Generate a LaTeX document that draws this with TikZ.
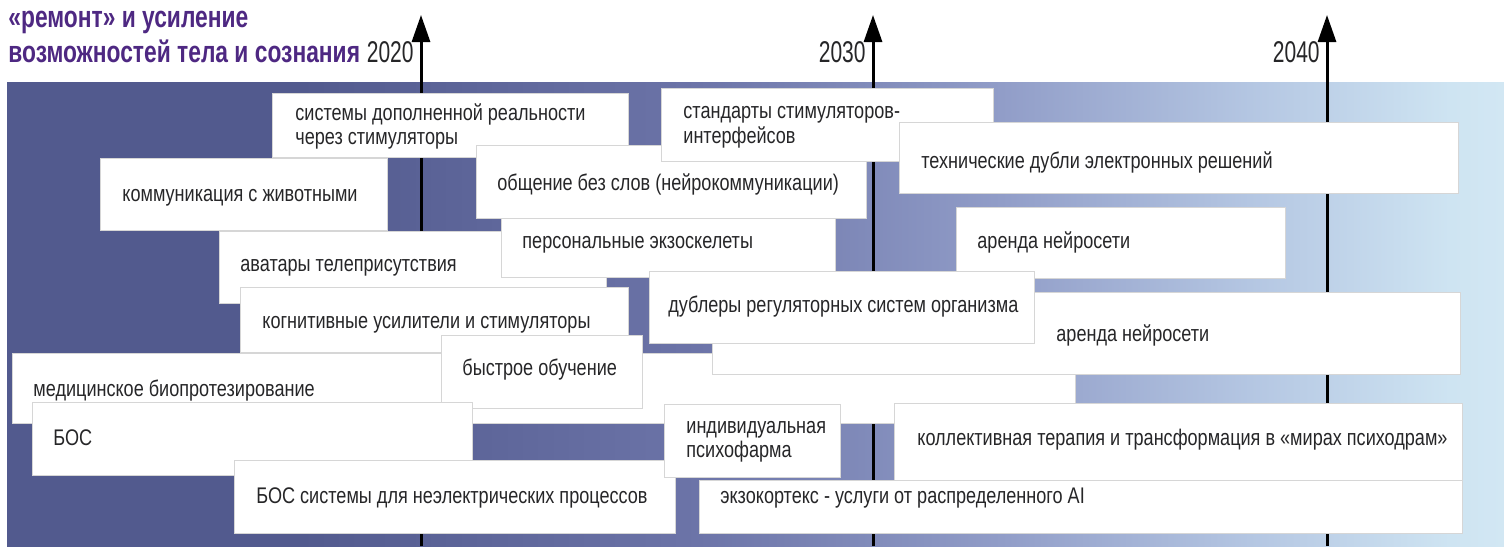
\documentclass[tikz,border=0pt]{standalone}
\usepackage{fontspec}
\setmainfont{Liberation Sans}[FakeStretch=0.8]
\newfontfamily\titlefont{Liberation Sans}[FakeStretch=0.75]
\newfontfamily\yearfont{Liberation Sans}[FakeStretch=0.7]
\usetikzlibrary{arrows.meta}

\definecolor{titleviolet}{RGB}{78,40,130}
\definecolor{cardink}{RGB}{38,38,40}
\definecolor{bandA}{RGB}{82,90,142}
\definecolor{bandB}{RGB}{108,116,168}
\definecolor{bandC}{RGB}{145,157,200}
\definecolor{bandD}{RGB}{180,198,226}
\definecolor{bandE}{RGB}{206,228,242}
\definecolor{bandF}{RGB}{210,231,243}

% the band is stretched over 25bp..75bp of the shading
\pgfdeclarehorizontalshading{timeband}{100bp}{color(0bp)=(bandA); color(34.8bp)=(bandA);
  color(48.1bp)=(bandB); color(58.2bp)=(bandC); color(66.5bp)=(bandD);
  color(73.2bp)=(bandE); color(75bp)=(bandF); color(100bp)=(bandF)}

\tikzset{
  card/.style={fill=white, draw=black!16, line width=0.5pt},
  cardtext/.style={anchor=base west, inner sep=0pt, text=cardink,
    font=\fontsize{11.3}{12}\selectfont},
  titletext/.style={anchor=base west, inner sep=0pt, text=titleviolet,
    font=\fontsize{15.2}{16}\selectfont\titlefont\bfseries},
  yeartext/.style={anchor=base east, inner sep=0pt, text=cardink,
    font=\fontsize{15}{16}\selectfont\yearfont},
  timeline/.style={line width=1.5pt, -{Triangle[length=13.5pt,width=9pt]}},
}

\begin{document}
\begin{tikzpicture}[x=0.5pt,y=-0.5pt]
\useasboundingbox (0,0) rectangle (1504,546);

%Heading
\node[titletext] (title1) at (8,27) {«ремонт» и усиление};
\node[titletext] (title2) at (8,62) {возможностей тела и сознания};

%Time band, dark on the left and pale on the right
\shade[shading=timeband] (7,82) rectangle (1504,546);

%Years axis
\coordinate (b2020) at (421,546); \coordinate (t2020) at (421,15);
\coordinate (b2030) at (873,546); \coordinate (t2030) at (873,15);
\coordinate (b2040) at (1327,546); \coordinate (t2040) at (1327,15);
\draw[timeline] (b2020) -- (t2020);
\draw[timeline] (b2030) -- (t2030);
\draw[timeline] (b2040) -- (t2040);
\node[yeartext] (y2020) at (414,62) {2020};
\node[yeartext] (y2030) at (866,62) {2030};
\node[yeartext] (y2040) at (1320,62) {2040};

%Upper row of cards
\draw[card] (272,93) rectangle (628,157);
\node[cardtext] (dopreal) at (295,120) {системы дополненной реальности};
\node[cardtext] (dopreal2) at (295,144) {через стимуляторы};

\draw[card] (476,145) rectangle (866,218);
\node[cardtext] (obshch) at (497,190) {общение без слов (нейрокоммуникации)};

\draw[card] (661,88) rectangle (993,161);
\node[cardtext] (standart) at (683,118) {стандарты стимуляторов-};
\node[cardtext] (standart2) at (683,143) {интерфейсов};

\draw[card] (899,122) rectangle (1458,193);
\node[cardtext] (dubli) at (921,168) {технические дубли электронных решений};

\draw[card] (100,158) rectangle (387,230);
\node[cardtext] (kommun) at (122,201) {коммуникация с животными};

%Middle rows
\draw[card] (219,231) rectangle (606,303);
\node[cardtext] (avatar) at (240,271) {аватары телеприсутствия};

\draw[card] (501,218) rectangle (835,277);
\node[cardtext] (exoskel) at (522,248) {персональные экзоскелеты};

\draw[card] (956,207) rectangle (1285,278);
\node[cardtext] (arenda1) at (977,248) {аренда нейросети};

\draw[card] (240,287) rectangle (628,352);
\node[cardtext] (kognit) at (262,328) {когнитивные усилители и стимуляторы};

\draw[card] (12,353) rectangle (1075,423);
\node[cardtext] (medbio) at (33,396) {медицинское биопротезирование};

\draw[card] (712,292) rectangle (1460,374);
\node[cardtext] (arenda2) at (1056,341) {аренда нейросети};

\draw[card] (649,271) rectangle (1034,343);
\node[cardtext] (dublery) at (668,312) {дублеры регуляторных систем организма};

\draw[card] (441,335) rectangle (642,408);
\node[cardtext] (bystro) at (462,375) {быстрое обучение};

%Lower rows
\draw[card] (32,402) rectangle (472,475);
\node[cardtext] (bos) at (53,445) {БОС};

\draw[card] (234,460) rectangle (675,533);
\node[cardtext] (bossys) at (256,503) {БОС системы для неэлектрических процессов};

\draw[card] (664,404) rectangle (840,477);
\node[cardtext] (psifarm) at (686,433) {индивидуальная};
\node[cardtext] (psifarm2) at (686,457) {психофарма};

\draw[card] (894,403) rectangle (1462,480);
\node[cardtext] (kollekt) at (917,445) {коллективная терапия и трансформация в «мирах психодрам»};

\draw[card] (699,480) rectangle (1462,533);
\node[cardtext] (exokort) at (720,503) {экзокортекс - услуги от распределенного AI};

\end{tikzpicture}
\end{document}
